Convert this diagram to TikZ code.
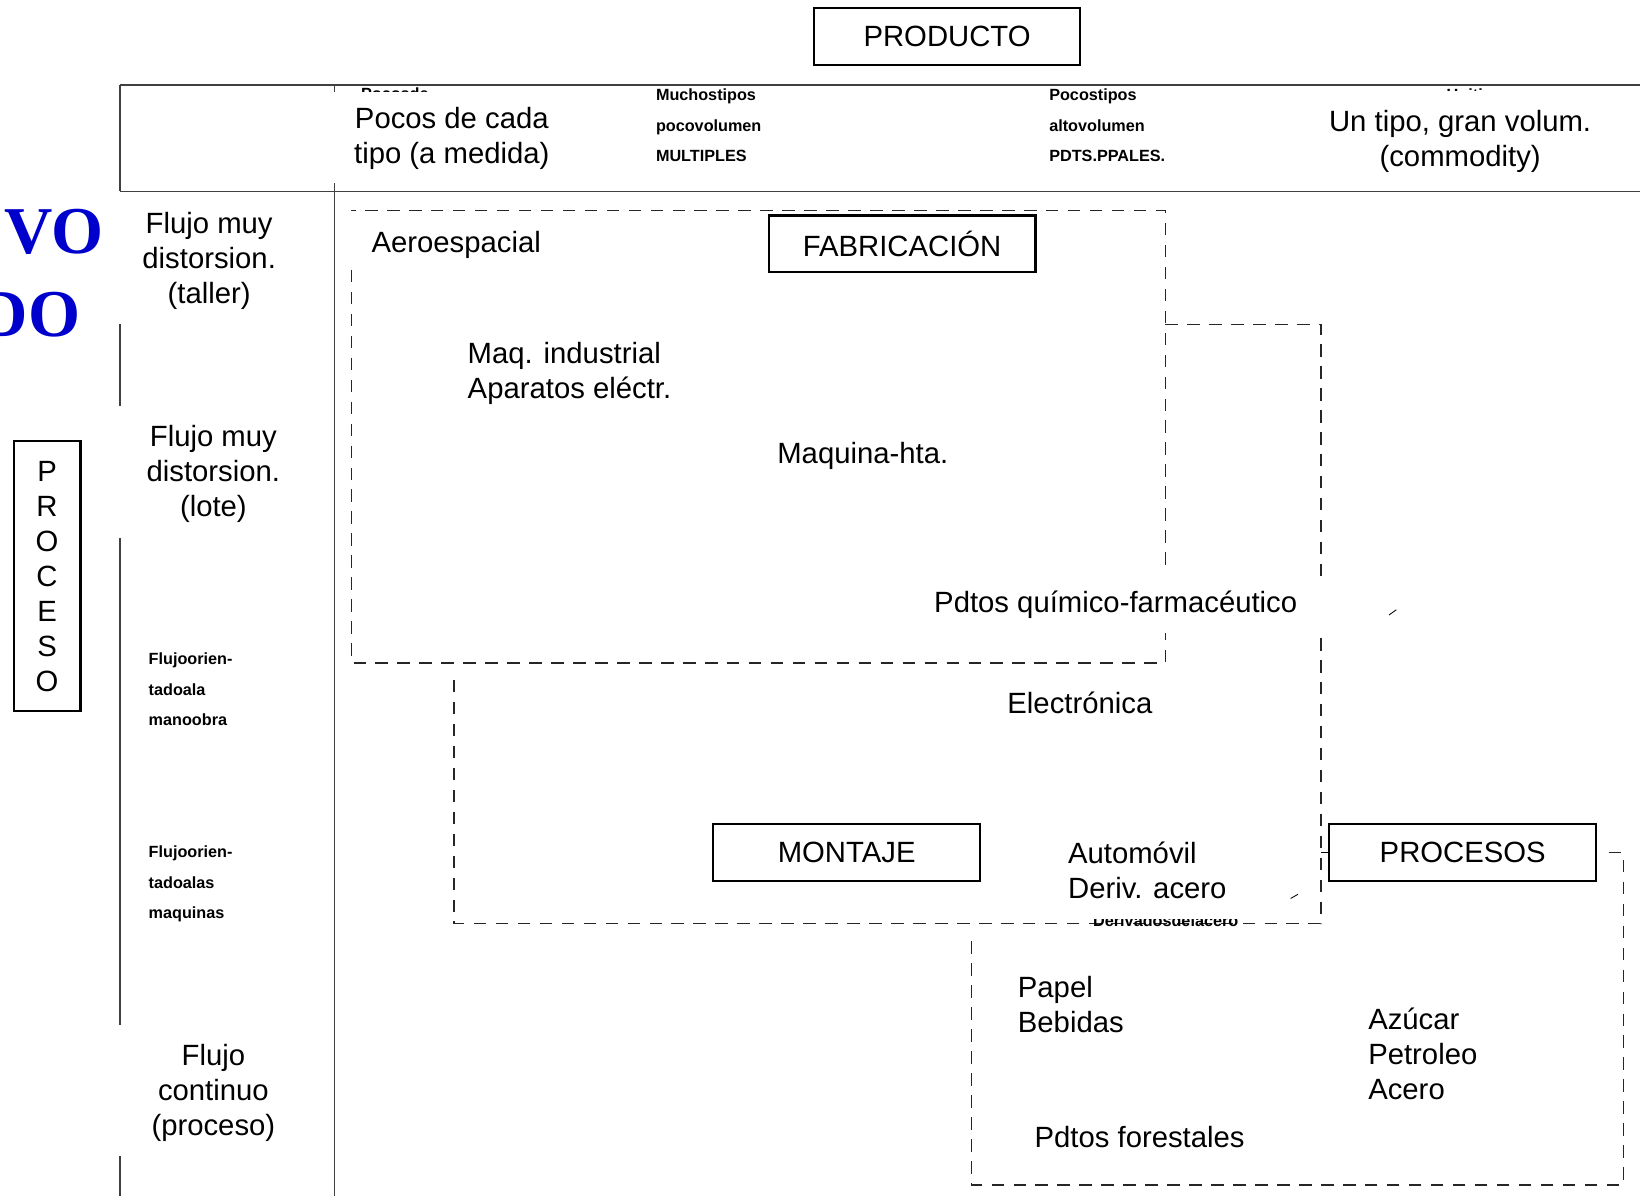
\documentclass[tikz,border=0pt]{standalone}
\usepackage{fontspec}
\setmainfont{Liberation Sans}
\newfontfamily\serifbold{Liberation Serif}
\definecolor{titleblue}{RGB}{0,0,205}
\begin{document}
\begin{tikzpicture}[x=1pt,y=-1pt,
  txt/.style={font=\fontsize{28}{33.5}\selectfont, inner sep=0pt},
  small/.style={font=\fontsize{15.5}{29}\selectfont\bfseries, inner sep=0pt, align=left},
  solidbox/.style={draw, line width=2pt, minimum width=255pt, minimum height=54pt, inner sep=0pt, txt},
  rule/.style={line width=1.5pt, draw=black!75},
  dashline/.style={line width=1.2pt, draw=black!85, dash pattern=on 12pt off 9pt},
  big/.style={font=\serifbold\bfseries\fontsize{64}{70}\selectfont, text=titleblue, inner sep=0pt, anchor=east}]
\fill[white] (0,0) rectangle (1568,1143);
\useasboundingbox (0,0) rectangle (1568,1143);

% header rules
\draw[rule] (115,81) -- (1568,81);
\draw[rule] (115,183) -- (1568,183);
\draw[rule] (115,81) -- (115,183);
\draw[rule] (115,310) -- (115,388);
\draw[rule] (115,514) -- (115,980);
\draw[rule] (115,1105) -- (115,1143);
\draw[rule] (320,81) -- (320,88);
\draw[rule] (320,175) -- (320,1143);

% clipped artefact texts
\begin{scope}
  \clip (330,82) rectangle (430,87.5);
  \node[small, anchor=base west] (pocosde) at (345,95) {Pocosde};
\end{scope}
\begin{scope}
  \clip (1370,82) rectangle (1440,86.5);
  \node[small, anchor=base west] (unitipo) at (1383,96) {Unitipo};
\end{scope}

% dashed regions
\draw[dashline] (336,258) -- (336,634) -- (1114,634) -- (1114,605);
\draw[dashline] (1114,540) -- (1114,201) -- (336,201);
\draw[dashline] (1114,310) -- (1263,310) -- (1263,551);
\draw[dashline] (1263,610) -- (1263,883) -- (434,883) -- (434,645);
\draw[dashline] (1538,815) -- (1552,815) -- (1552,1133) -- (929,1133) -- (929,893);
\draw[line width=0.8pt] (1328,588) -- (1335,583);
\draw[line width=0.8pt] (1234,859) -- (1241,855);

\begin{scope}
  \clip (1030,879.5) rectangle (1200,895);
  \node[small, anchor=base west] (derivados) at (1045,886) {Derivadosdelacero};
\end{scope}

% boxes
\node[solidbox] (producto) at (905.5,35) {PRODUCTO};
\node[solidbox] (fab) at (862.5,233) {FABRICACIÓN};
\node[solidbox] (montaje) at (809.5,815) {MONTAJE};
\node[solidbox] (procesos) at (1398.5,815) {PROCESOS};
\draw[line width=1pt] (1263,815) -- (procesos.west);
\node[draw, line width=2pt, minimum width=64pt, minimum height=258pt, txt, align=center] (proceso) at (45,551) {P\\R\\O\\C\\E\\S\\O};

% big blue
\node[big] (vo) at (99,222) {VO};
\node[big] (do) at (77,301) {DO};

% header texts
\node[txt, align=center] (hdr1) at (432,132) {Pocos de cada\\tipo (a medida)};
\node[small, anchor=west] (hdr2) at (627,120) {Muchostipos\\pocovolumen\\MULTIPLES};
\node[small, anchor=west] (hdr3) at (1003,120) {Pocostipos\\altovolumen\\PDTS.PPALES.};
\node[txt, align=center] (hdr4) at (1396,135) {Un tipo, gran volum.\\(commodity)};

% row labels
\node[txt, align=center] (r1) at (200,249.5) {Flujo muy\\distorsion.\\(taller)};
\node[txt, align=center] (r2) at (204,453.5) {Flujo muy\\distorsion.\\(lote)};
\node[small, anchor=west] (r3) at (142,659) {Flujoorien-\\tadoala\\manoobra};
\node[small, anchor=west] (r4) at (142,845) {Flujoorien-\\tadoalas\\maquinas};
\node[txt, align=center] (r5) at (204,1045) {Flujo\\continuo\\(proceso)};

% industries
\node[txt, anchor=west] (aero) at (355,234) {Aeroespacial};
\node[txt, anchor=west, align=left] (maq) at (447,357) {Maq. industrial\\Aparatos eléctr.};
\node[txt, anchor=west] (hta) at (743,436) {Maquina-hta.};
\node[txt, anchor=west] (quim) at (893,578) {Pdtos químico-farmacéutico};
\node[txt, anchor=west] (elec) at (963,672) {Electrónica};
\node[txt, anchor=west, align=left] (auto) at (1021,832) {Automóvil\\Deriv. acero};
\node[txt, anchor=west, align=left] (papel) at (973,960) {Papel\\Bebidas};
\node[txt, anchor=west, align=left] (azucar) at (1308,1008) {Azúcar\\Petroleo\\Acero};
\node[txt, anchor=west] (forest) at (989,1087) {Pdtos forestales};
\end{tikzpicture}
\end{document}
